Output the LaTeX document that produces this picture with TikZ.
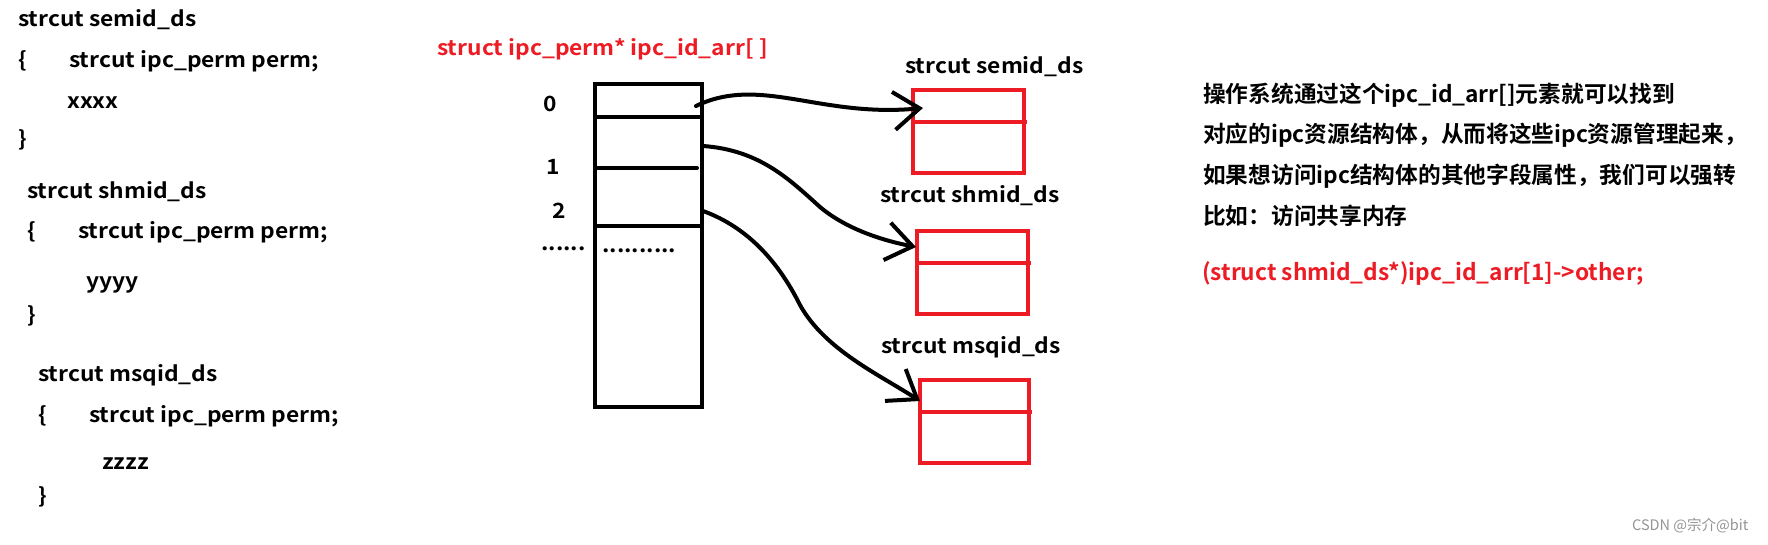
\documentclass[tikz,border=0pt]{standalone}
\usepackage{fontspec}
\setmainfont{Noto Sans CJK SC}
\newfontfamily\lfont{Noto Sans CJK SC Bold}[FakeStretch=1.085]
\newfontfamily\rfont{Noto Sans CJK SC Bold}
\usetikzlibrary{arrows.meta}
\definecolor{pred}{RGB}{237,28,36}
\tikzset{
  txt/.style={anchor=base west, inner sep=0pt, font=\lfont\fontsize{21}{25}\selectfont},
  rtxt/.style={txt, text=pred},
  cjk/.style={anchor=base west, inner sep=0pt, font=\rfont\fontsize{22.7}{27}\selectfont},
  cell/.style={draw=black, line width=4pt},
  rbox/.style={draw=pred, line width=4pt},
  ptr/.style={draw=black, line width=4pt, line cap=round, -{Straight Barb[length=26pt, width=38pt, line width=4pt]}},
}
\begin{document}
\begin{tikzpicture}[x=1pt,y=-1pt]
\useasboundingbox[fill=white] (0,0) rectangle (1768,545);
% left code
\node[txt] (s1) at (18,27) {strcut semid\_ds};
\node[txt] (s1a) at (18,68) {\{};
\node[txt] (s1b) at (69,68) {strcut ipc\_perm perm;};
\node[txt] (s1c) at (67,109) {xxxx};
\node[txt] (s1d) at (18,147) {\}};
\node[txt] (s2) at (27,199) {strcut shmid\_ds};
\node[txt] (s2a) at (27,239) {\{};
\node[txt] (s2b) at (78,239) {strcut ipc\_perm perm;};
\node[txt] (s2c) at (86,288) {yyyy};
\node[txt] (s2d) at (27,322) {\}};
\node[txt] (s3) at (38,381) {strcut msqid\_ds};
\node[txt] (s3a) at (38,422) {\{};
\node[txt] (s3b) at (89,422) {strcut ipc\_perm perm;};
\node[txt] (s3c) at (102,469) {zzzz};
\node[txt] (s3d) at (38,503) {\}};
% array
\node[rtxt] (title) at (437,56) {struct ipc\_perm* ipc\_id\_arr[ ]};
\node[cell, minimum width=107pt, minimum height=323pt, inner sep=0pt, anchor=north west] (arr) at (593,82) {};
\coordinate (l0a) at (593,117); \coordinate (l0b) at (703,117);
\coordinate (l1a) at (597,168); \coordinate (l1b) at (697,168);
\coordinate (l2a) at (593,226); \coordinate (l2b) at (700,226);
\draw[cell] (l0a) -- (l0b);
\draw[cell, line cap=round] (l1a) -- (l1b);
\draw[cell] (l2a) -- (l2b);
\node[txt] (i0) at (543,112) {0};
\node[txt] (i1) at (546,175) {1};
\node[txt] (i2) at (552,219) {2};
\node[txt] (d0) at (541,251) {......};
\node[txt] (d1) at (602,253) {..........};
% red boxes
\node[txt] (n1) at (905,74) {strcut semid\_ds};
\node[txt] (n2) at (880,203) {strcut shmid\_ds};
\node[txt] (n3) at (881,353) {strcut msqid\_ds};
\node[rbox, minimum width=111pt, minimum height=83pt, inner sep=0pt, anchor=north west] (b1) at (911,88) {};
\node[rbox, minimum width=111pt, minimum height=83pt, inner sep=0pt, anchor=north west] (b2) at (915,229) {};
\node[rbox, minimum width=109pt, minimum height=83pt, inner sep=0pt, anchor=north west] (b3) at (918,378) {};
\coordinate (m1a) at (911,122); \coordinate (m1b) at (1027,122);
\coordinate (m2a) at (915,263); \coordinate (m2b) at (1031,263);
\coordinate (m3a) at (918,412); \coordinate (m3b) at (1032,412);
\draw[rbox] (m1a) -- (m1b);
\draw[rbox] (m2a) -- (m2b);
\draw[rbox] (m3a) -- (m3b);
% pointers
\coordinate (p0) at (696,106); \coordinate (t0) at (923,108);
\coordinate (p1) at (703,146); \coordinate (t1) at (916,247);
\coordinate (p2) at (703,211); \coordinate (t2) at (920,401);
\draw[ptr] (p0) .. controls (760,75) and (820,118) .. (t0);
\draw[ptr] (p1) .. controls (760,150) and (790,180) .. (820,207) .. controls (845,228) and (880,240) .. (t1);
\draw[ptr] (p2) .. controls (750,228) and (780,265) .. (800,305) .. controls (825,350) and (880,375) .. (t2);
% right text
\node[cjk] (c1) at (1203,103) {操作系统通过这个ipc\_id\_arr[]元素就可以找到};
\node[cjk] (c2) at (1203,143) {对应的ipc资源结构体，从而将这些ipc资源管理起来，};
\node[cjk] (c3) at (1203,184) {如果想访问ipc结构体的其他字段属性，我们可以强转};
\node[cjk] (c4) at (1203,225) {比如：访问共享内存};
\node[cjk, text=pred] (c5) at (1202,280) {(struct shmid\_ds*)ipc\_id\_arr[1]->other;};
\node[anchor=base west, inner sep=0pt, text=black!42, font=\fontsize{14.5}{17}\selectfont] (wm) at (1632,530) {CSDN @宗介@bit};
\end{tikzpicture}
\end{document}
